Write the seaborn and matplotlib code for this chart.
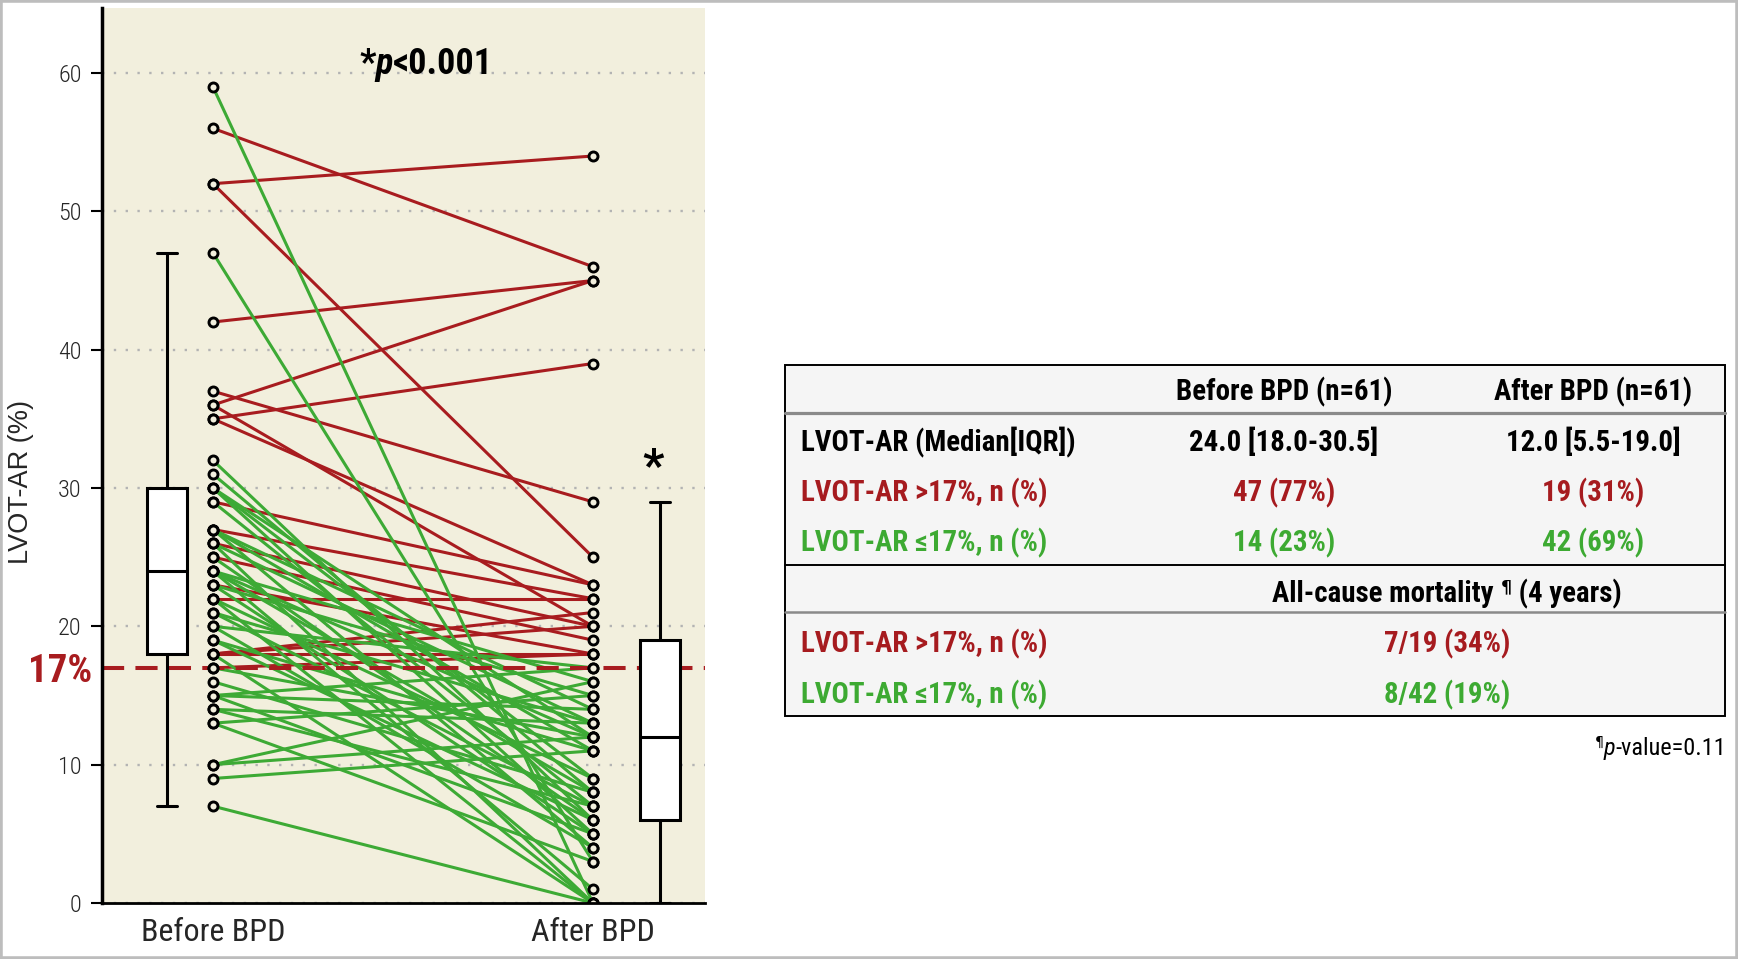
import numpy as np
import pandas as pd
import matplotlib
matplotlib.use("Agg")
import matplotlib.pyplot as plt
import seaborn as sns
from matplotlib import font_manager as fm
from matplotlib.transforms import IdentityTransform, blended_transform_factory
from matplotlib.patches import Rectangle
from matplotlib.lines import Line2D

# ---------------- data ----------------
timepoints = ["Before BPD", "After BPD"]
before_vals = [52, 56, 42, 36, 35, 37, 52, 36, 35, 29, 27, 26, 22, 23, 25, 18, 18, 18, 17,
               59, 47, 32, 31, 30, 30, 30, 29, 27, 27, 27, 26, 26, 25, 24, 24, 24, 24, 23, 23,
               22, 22, 21, 21, 20, 20, 19, 19, 18, 17, 16, 15, 15, 15, 14, 14, 13, 13, 10, 10, 9, 7]
after_vals = [54, 46, 45, 45, 39, 29, 25, 20, 23, 23, 22, 20, 22, 18, 19, 21, 20, 18, 18,
              0, 3, 6, 8, 5, 9, 12, 7, 4, 11, 14, 0, 13, 6, 16, 8, 1, 12, 5, 15,
              9, 0, 7, 13, 17, 4, 11, 6, 0, 12, 8, 17, 5, 14, 13, 7, 15, 3, 12, 16, 11, 0]
cutoff = 17
y_ticks = [0, 10, 20, 30, 40, 50, 60]

table_header = ["", "Before BPD (n=61)", "After BPD (n=61)"]
table_rows = [
    ["LVOT-AR (Median[IQR])", "24.0 [18.0-30.5]", "12.0 [5.5-19.0]"],
    ["LVOT-AR >17%, n (%)", "47 (77%)", "19 (31%)"],
    ["LVOT-AR \u226417%, n (%)", "14 (23%)", "42 (69%)"],
]
mort_rows = [
    ["LVOT-AR >17%, n (%)", "7/19 (34%)"],
    ["LVOT-AR \u226417%, n (%)", "8/42 (19%)"],
]

# ---------------- style ----------------
sns.set_style("white")
W, H = 1738, 959
RED = "#A81C1F"
GREEN = "#3DAA35"
BEIGE = "#F2EFDD"
TXT_RED = "#A61B1F"
TXT_GREEN = "#3DAA32"

names = {f.name for f in fm.fontManager.ttflist}
cond_stretch = {f.name for f in fm.fontManager.ttflist if str(f.stretch) in ("condensed", "semi-condensed", "extra-condensed")}
COND = None
SC = 1.0
for cand in ["Roboto Condensed", "Liberation Sans Narrow", "Open Sans Condensed", "Noto Sans Condensed"]:
    if cand in names:
        COND = dict(family=cand)
        SC = 1.0
        break
if COND is None:
    if "DejaVu Sans" in cond_stretch:
        COND = dict(family="DejaVu Sans", stretch="condensed")
        SC = 0.88
    else:
        COND = dict(family="Roboto" if "Roboto" in names else "DejaVu Sans")
        SC = 0.86
ARIAL = "Liberation Sans" if "Liberation Sans" in names else "DejaVu Sans"

plt.rcParams["font.family"] = [COND["family"], "DejaVu Sans"]

fig = plt.figure(figsize=(W / 100, H / 100), dpi=100)
fig.patch.set_facecolor("white")

ax = fig.add_axes([102 / W, 1 - 903 / H, (705 - 102) / W, (903 - 8) / H])
ax.set_facecolor(BEIGE)

# long-form data
n = len(before_vals)
group = ["high" if a > cutoff else "low" for a in after_vals]
df = pd.DataFrame({
    "id": np.r_[np.arange(n), np.arange(n)],
    "time": np.r_[np.zeros(n), np.ones(n)],
    "value": np.r_[before_vals, after_vals],
    "group": group + group,
})

sns.lineplot(data=df, x="time", y="value", units="id", estimator=None, hue="group",
             palette={"high": RED, "low": GREEN}, linewidth=2.2, sort=False,
             legend=False, ax=ax, zorder=2)

ax.axhline(cutoff, color=RED, lw=2.9, ls=(0, (5.5, 2.8)), zorder=2.5)

sns.scatterplot(data=df, x="time", y="value", color=BEIGE, edgecolor="black",
                linewidth=2.1, s=42, legend=False, ax=ax, zorder=4)

box_pos = [-0.121, 1.176]
box_df = pd.DataFrame({"pos": np.r_[np.full(n, box_pos[0]), np.full(n, box_pos[1])],
                       "value": np.r_[before_vals, after_vals]})
sns.boxplot(data=box_df, x="pos", y="value", orient="x", native_scale=True, width=0.081,
            color="white", linecolor="black", linewidth=2.2, showfliers=False,
            saturation=1, ax=ax, zorder=3)

ax.set_xlim(-0.292, 1.295)
ax.set_ylim(0, 64.7)
ax.set_xticks([0, 1])
ax.set_xticklabels(timepoints)
ax.set_yticks(y_ticks)
ax.set_yticklabels([str(t) for t in y_ticks])
ax.set_xlabel("")
ax.set_ylabel("LVOT-AR (%)", fontfamily=ARIAL, fontsize=19.5, va="center")
ax.yaxis.set_label_coords(-0.134, 0.470)

for lab in ax.get_yticklabels():
    lab.set_fontfamily(COND["family"])
    if "stretch" in COND:
        lab.set_fontstretch(COND["stretch"])
    lab.set_fontsize(17.5 * SC)
    lab.set_fontweight("light")
for lab in ax.get_xticklabels():
    lab.set_fontfamily(COND["family"])
    if "stretch" in COND:
        lab.set_fontstretch(COND["stretch"])
    lab.set_fontsize(23 * SC)

ax.tick_params(axis="y", length=8, width=1.5, color="black", pad=6.5, left=True)
ax.tick_params(axis="x", length=0, pad=11)
ax.yaxis.grid(True, color="#B3B3B3", lw=1.7, ls=(0, (1, 4.0)))
ax.xaxis.grid(False)
ax.set_axisbelow(True)
for s in ["top", "right"]:
    ax.spines[s].set_visible(False)
ax.spines["left"].set_color("black")
ax.spines["left"].set_linewidth(2.5)
ax.spines["bottom"].set_color("black")
ax.spines["bottom"].set_linewidth(2.0)
ax.spines["left"].set_zorder(5)
ax.spines["bottom"].set_zorder(5)

# 17% label
tr = blended_transform_factory(ax.transAxes, ax.transData)
ax.text(-10 / 603, cutoff, "17%", transform=tr, ha="right", va="center_baseline",
        color=RED, fontsize=28 * SC, fontweight="bold", clip_on=False, **COND)

# ---------------- rich text helper (display pixel coords, y from top) ----------------
renderer = fig.canvas.get_renderer()


def rich(x, y_center, pieces, size, ha="left", color="black", weight="bold"):
    """pieces: list of (text, dict) ; y_center = vertical centre of cap height (px from top)."""
    size_px = size * 100 / 72
    base = H - (y_center + 0.355 * size_px)
    arts, widths = [], []
    for s, kw in pieces:
        kw = dict(kw)
        dy = kw.pop("dy", 0.0)
        fs = kw.pop("size", size)
        props = dict(fontsize=fs, color=color, fontweight=weight)
        props.update(COND)
        props.update(kw)
        t = fig.text(0, 0, s, transform=IdentityTransform(), va="baseline", ha="left", **props)
        arts.append((t, dy))
        widths.append(t.get_window_extent(renderer).width)
    total = sum(widths)
    if ha == "center":
        x0 = x - total / 2
    elif ha == "right":
        x0 = x - total
    else:
        x0 = x
    for (t, dy), w in zip(arts, widths):
        t.set_position((x0, base + dy * size_px))
        x0 += w


# p-value annotation on the plot
rich(426, 61, [("*", {}), ("p", {"style": "italic"}), ("<0.001", {})], 26 * SC, ha="center")
# asterisk above after box
rich(653, 464, [("*", {})], 34 * SC, ha="center")

# ---------------- table ----------------
TL, TR, TT, TB = 785, 1725, 365, 716
fig.patches.append(Rectangle((TL, H - TB), TR - TL, TB - TT, transform=IdentityTransform(),
                             facecolor="#F5F5F5", edgecolor="black", lw=1.4, zorder=1))


def hline(y, color, lw):
    fig.lines.append(Line2D([TL, TR], [H - y, H - y], transform=IdentityTransform(),
                            color=color, lw=lw, zorder=2))


hline(413, "#8A8A8A", 2.3)
hline(565, "black", 1.4)
hline(612, "#8A8A8A", 1.8)

FS = 20.8 * SC
LX, C1, C2, CM = 801, 1284, 1593, 1447
rich(C1, 390, [(table_header[1], {})], FS, ha="center")
rich(C2, 390, [(table_header[2], {})], FS, ha="center")
row_y = [441, 491, 541]
row_col = ["black", TXT_RED, TXT_GREEN]
for (lab, v1, v2), yy, cc in zip(table_rows, row_y, row_col):
    rich(LX, yy, [(lab, {})], FS, color=cc)
    rich(C1, yy, [(v1, {})], FS, ha="center", color=cc)
    rich(C2, yy, [(v2, {})], FS, ha="center", color=cc)

rich(CM, 592, [("All-cause mortality ", {}), ("\u00b6", {"size": FS * 0.6, "dy": 0.35, "family": "DejaVu Sans"}),
               (" (4 years)", {})], FS, ha="center")
for (lab, v), yy, cc in zip(mort_rows, [642, 693], [TXT_RED, TXT_GREEN]):
    rich(LX, yy, [(lab, {})], FS, color=cc)
    rich(CM, yy, [(v, {})], FS, ha="center", color=cc)

rich(1726, 746, [("\u00b6", {"size": 17 * SC * 0.6, "dy": 0.35, "family": "DejaVu Sans"}),
                 ("p", {"style": "italic"}), ("-value=0.11", {})], 17.5 * SC, ha="right", weight="normal")

# figure frame
fig.patches.append(Rectangle((0, 0), 1, 1, transform=fig.transFigure, fill=False,
                             edgecolor="#BDBDBD", lw=4, zorder=10))

fig.savefig("out.png", dpi=100)
